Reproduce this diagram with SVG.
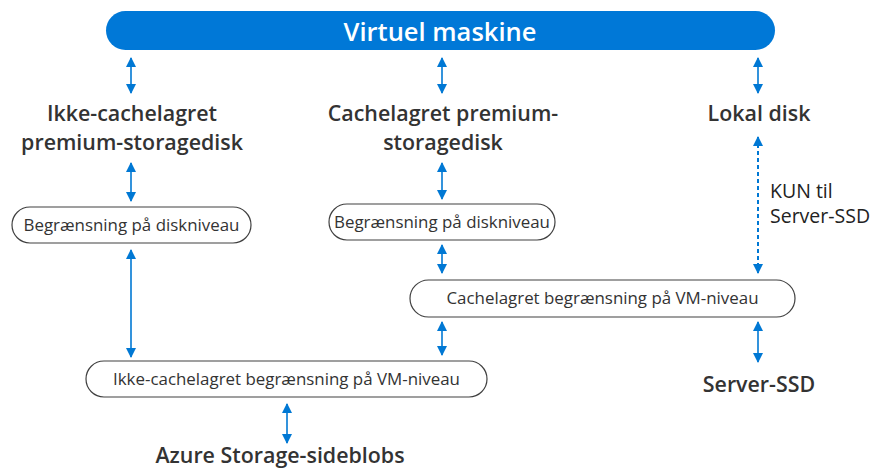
<svg xmlns="http://www.w3.org/2000/svg" width="877" height="469" viewBox="0 0 877 469">
  <defs>
    <marker id="ah" viewBox="0 0 10 10" refX="9" refY="5" markerWidth="10" markerHeight="10" markerUnits="userSpaceOnUse" orient="auto-start-reverse">
      <path d="M0,0 L10,5 L0,10 z" fill="#0078D4"/>
    </marker>
    <style>
      .conn { stroke: #0078D4; stroke-width: 1.6; fill: none; marker-start: url(#ah); marker-end: url(#ah); }
      .dash { stroke-dasharray: 4 3; stroke-width: 2; }
      .box { fill: #fff; stroke: #404040; stroke-width: 1.2; }
      .lbl { font-family: "Open Sans", "Noto Sans", sans-serif; fill: #333; text-anchor: middle; }
      .bold { font-weight: 600; font-size: 21.4px; }
      .small { font-size: 16.9px; }
      .note { font-family: "Open Sans", "Noto Sans", sans-serif; fill: #222; font-size: 19.5px; }
    </style>
  </defs>
  <rect width="877" height="469" fill="#fff"/>

  <g id="vm">
    <rect x="106" y="11" width="669" height="39" rx="19.5" fill="#0078D7"/>
    <text class="lbl" x="440" y="41" style="fill:#fff;font-size:25.5px;font-weight:600">Virtuel maskine</text>
  </g>

  <g id="uncached-disk">
    <text class="lbl bold" x="132" y="121">Ikke-cachelagret</text>
    <text class="lbl bold" x="132" y="150">premium-storagedisk</text>
  </g>
  <g id="cached-disk">
    <text class="lbl bold" x="443" y="121">Cachelagret premium-</text>
    <text class="lbl bold" x="443" y="150">storagedisk</text>
  </g>
  <g id="local-disk">
    <text class="lbl bold" x="759" y="121">Lokal disk</text>
  </g>

  <g id="disk-limit-1">
    <rect class="box" x="12" y="207" width="239" height="36" rx="18"/>
    <text class="lbl small" x="131.5" y="231">Begrænsning på diskniveau</text>
  </g>
  <g id="disk-limit-2">
    <rect class="box" x="329" y="204" width="226" height="36" rx="18"/>
    <text class="lbl small" x="442" y="228">Begrænsning på diskniveau</text>
  </g>
  <g id="cached-vm-limit">
    <rect class="box" x="410" y="280" width="385" height="37" rx="18.5"/>
    <text class="lbl small" x="602.5" y="304">Cachelagret begrænsning på VM-niveau</text>
  </g>
  <g id="uncached-vm-limit">
    <rect class="box" x="86" y="361" width="401" height="36" rx="18"/>
    <text class="lbl small" x="286.5" y="385">Ikke-cachelagret begrænsning på VM-niveau</text>
  </g>
  <g id="server-ssd">
    <text class="lbl bold" x="759" y="392">Server-SSD</text>
  </g>
  <g id="page-blobs">
    <text class="lbl bold" x="280" y="463">Azure Storage-sideblobs</text>
  </g>

  <g id="connectors">
    <line class="conn" x1="131" y1="58" x2="131" y2="93"/>
    <line class="conn" x1="442" y1="58" x2="442" y2="93"/>
    <line class="conn" x1="758" y1="58" x2="758" y2="93"/>
    <line class="conn" x1="131" y1="163" x2="131" y2="201"/>
    <line class="conn" x1="442" y1="163" x2="442" y2="199"/>
    <line class="conn" x1="131" y1="250" x2="131" y2="357"/>
    <line class="conn" x1="442" y1="245" x2="442" y2="273"/>
    <line class="conn dash" x1="758" y1="137" x2="758" y2="273"/>
    <line class="conn" x1="442" y1="322" x2="442" y2="355"/>
    <line class="conn" x1="758" y1="322" x2="758" y2="362"/>
    <line class="conn" x1="287" y1="404" x2="287" y2="443"/>
    <text class="note" x="770" y="198">KUN til</text>
    <text class="note" x="770" y="223">Server-SSD</text>
  </g>
</svg>
